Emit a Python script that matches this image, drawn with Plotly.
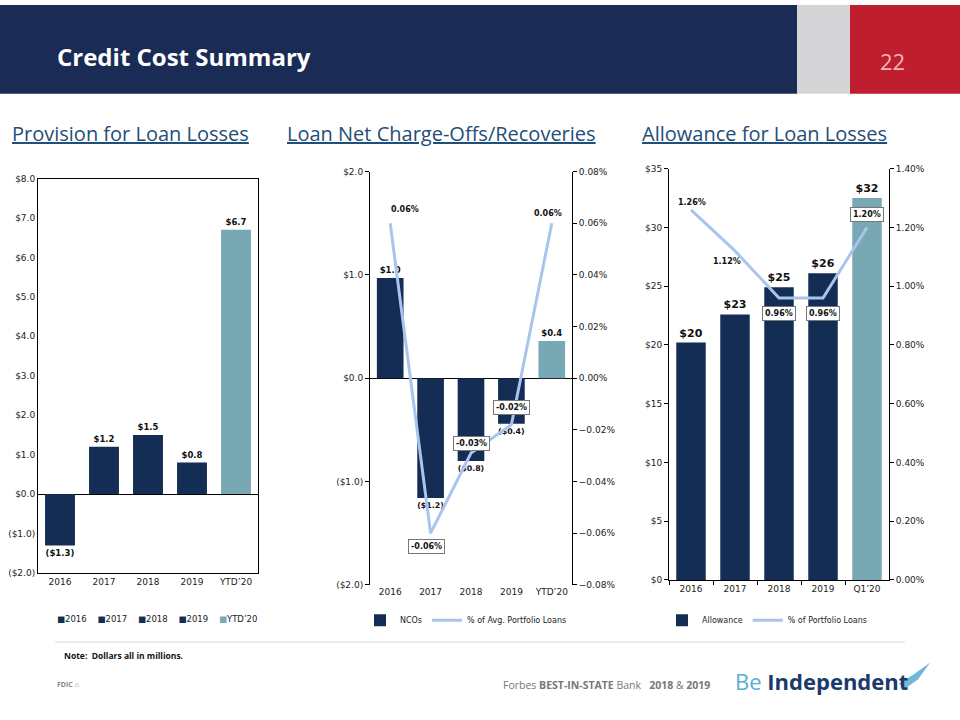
import plotly.graph_objects as go

# ---- data ----------------------------------------------------------------
prov_cats = ["2016", "2017", "2018", "2019", "YTD’20"]
prov_vals = [-1.3, 1.2, 1.5, 0.8, 6.7]

nco_cats = ["2016", "2017", "2018", "2019", "YTD’20"]
nco_vals = [0.97, -1.16, -0.80, -0.44, 0.36]
nco_pct = [0.060, -0.060, -0.029, -0.018, 0.060]

allow_cats = ["2016", "2017", "2018", "2019", "Q1’20"]
allow_vals = [20.2, 22.6, 24.9, 26.1, 32.5]
allow_pct = [1.26, 1.12, 0.96, 0.96, 1.20]

prov_ticks = [-2, -1, 0, 1, 2, 3, 4, 5, 6, 7, 8]
nco_ticks = [-2, -1, 0, 1, 2]

NAVY = "#142d54"
TEAL = "#78a8b4"
LINE = "#a9c5ee"
FONT = "DejaVu Sans"
NARROW = "Liberation Sans Narrow, Open Sans, sans-serif"


def money(v):
    return f"${v:.1f}" if v >= 0 else f"(${-v:.1f})"


def bar_colors(cats):
    return [NAVY] * (len(cats) - 1) + [TEAL]


fig = go.Figure()

# ---- left: provision -------------------------------------------------------
fig.add_trace(go.Bar(
    x=prov_cats, y=prov_vals, marker=dict(color=bar_colors(prov_cats), line_width=0),
    width=0.68, text=[f"<b>{money(v)}</b>" for v in prov_vals],
    textposition="outside", cliponaxis=False,
    textfont=dict(family=FONT, size=8.5, color="#111"),
    showlegend=False, xaxis="x", yaxis="y",
))

# ---- middle: net charge-offs ----------------------------------------------
fig.add_trace(go.Bar(
    x=nco_cats, y=nco_vals, marker=dict(color=bar_colors(nco_cats), line_width=0),
    width=0.66, text=[f"<b>{money(v)}</b>" for v in nco_vals],
    textposition="outside", cliponaxis=False,
    textfont=dict(family=FONT, size=8.5, color="#111"),
    name="NCOs", legend="legend", xaxis="x2", yaxis="y2",
))
fig.add_trace(go.Scatter(
    x=nco_cats, y=nco_pct, mode="lines", line=dict(color=LINE, width=3),
    name="% of Avg. Portfolio Loans", legend="legend", xaxis="x2", yaxis="y3",
))

# ---- right: allowance ------------------------------------------------------
fig.add_trace(go.Bar(
    x=allow_cats, y=allow_vals, marker=dict(color=bar_colors(allow_cats), line_width=0),
    width=0.67, text=[f"<b>${v:.0f}</b>" for v in allow_vals],
    textposition="outside", cliponaxis=False,
    textfont=dict(family=FONT, size=11, color="#111"),
    name="Allowance", legend="legend2", xaxis="x3", yaxis="y4",
))
fig.add_trace(go.Scatter(
    x=allow_cats, y=allow_pct, mode="lines", line=dict(color=LINE, width=3),
    name="% of Portfolio Loans", legend="legend2", xaxis="x3", yaxis="y5",
))


# ---- point labels on the lines --------------------------------------------
# category strings like "2016" read as numbers here, so place by category index
def pct_labels(values, shifts, xref, yref):
    for i, (v, (dx, dy, boxed)) in enumerate(zip(values, shifts)):
        fig.add_annotation(
            x=i, y=v, xref=xref, yref=yref, text=f"<b>{v:.2f}%</b>", showarrow=False,
            xshift=dx, yshift=dy, font=dict(family=FONT, size=8, color="#111"),
            bgcolor="white" if boxed else "rgba(0,0,0,0)",
            bordercolor="#777" if boxed else "rgba(0,0,0,0)",
            borderwidth=1, borderpad=2,
        )


pct_labels(nco_pct, [(15, 14, False), (-4, -13, True), (0, 10, True), (0, 17, True),
                     (-4, 10, False)], "x2", "y3")
pct_labels(allow_pct, [(1, 7, False), (-8, -11, False), (0, -16, True), (0, -16, True),
                       (0, 13, True)], "x3", "y5")

# ---- axes -----------------------------------------------------------------
tickfont = dict(family=FONT, size=9, color="#222")
catfont = dict(family=FONT, size=9, color="#222")
W, H = 960, 720


def px_x(a, b):
    return [a / W, b / W]


def px_y(top, bottom):
    return [1 - bottom / H, 1 - top / H]


def cat_axis(cats, **kw):
    return dict(type="category", categoryorder="array", categoryarray=cats,
                range=[-0.5, len(cats) - 0.5], autorange=False, tickfont=catfont, **kw)


fig.update_layout(
    xaxis=cat_axis(prov_cats, domain=px_x(38, 258), anchor="y", showline=True,
                   mirror=True, linecolor="black", linewidth=1, ticks=""),
    yaxis=dict(domain=px_y(176, 576), anchor="x", range=[-2, 8],
               tickvals=prov_ticks, ticktext=[money(t) for t in prov_ticks],
               showline=True, mirror=True, linecolor="black", linewidth=1,
               showgrid=False, zeroline=True, zerolinecolor="black", zerolinewidth=1,
               ticks="", tickfont=tickfont),

    xaxis2=cat_axis(nco_cats, domain=px_x(370, 572), anchor="y2", showline=False,
                    ticks=""),
    yaxis2=dict(domain=px_y(169, 588), anchor="x2", range=[-2, 2],
                tickvals=nco_ticks, ticktext=[money(t) for t in nco_ticks],
                showline=True, linecolor="black", linewidth=1, ticks="outside",
                ticklen=4, tickcolor="black", showgrid=False, zeroline=True,
                zerolinecolor="black", zerolinewidth=1, tickfont=tickfont),
    yaxis3=dict(overlaying="y2", side="right", anchor="x2", range=[-0.08, 0.08],
                dtick=0.02, tickformat=".2f", ticksuffix="%",
                showline=True, linecolor="black", linewidth=1, ticks="outside",
                ticklen=4, tickcolor="black", showgrid=False, zeroline=False,
                tickfont=tickfont),

    xaxis3=cat_axis(allow_cats, domain=px_x(669, 889), anchor="y4", showline=True,
                    linecolor="black", linewidth=1, ticks="outside",
                    tickson="boundaries", ticklen=4, tickcolor="black"),
    yaxis4=dict(domain=px_y(166, 583), anchor="x3", range=[0, 35], dtick=5,
                tickprefix="$", showline=True, linecolor="black", linewidth=1,
                ticks="outside", ticklen=4, tickcolor="black", showgrid=False,
                zeroline=False, tickfont=tickfont),
    yaxis5=dict(overlaying="y4", side="right", anchor="x3", range=[0, 1.4],
                dtick=0.2, tickformat=".2f", ticksuffix="%",
                showline=True, linecolor="black", linewidth=1, ticks="outside",
                ticklen=4, tickcolor="black", showgrid=False, zeroline=False,
                tickfont=tickfont),

    legend=dict(orientation="h", x=360 / W, y=1 - 624 / H, xanchor="left", yanchor="middle",
                font=dict(family=FONT, size=8, color="#222"), itemwidth=30,
                bgcolor="rgba(0,0,0,0)"),
    legend2=dict(orientation="h", x=662 / W, y=1 - 624 / H, xanchor="left", yanchor="middle",
                 font=dict(family=FONT, size=8, color="#222"), itemwidth=30,
                 bgcolor="rgba(0,0,0,0)"),
    barmode="overlay",
    width=W, height=H, margin=dict(l=0, r=0, t=0, b=0),
    plot_bgcolor="white", paper_bgcolor="white",
)


def note(x, y, text, size, color="#111", family=NARROW, xanchor="left"):
    fig.add_annotation(x=x / W, y=1 - y / H, xref="paper", yref="paper", text=text,
                       xanchor=xanchor, yanchor="middle", showarrow=False,
                       font=dict(family=family, size=size, color=color))


# legend for the provision chart (one swatch per year)
swatches = "    ".join(
    f"<span style='color:{c}'>■</span>{cat}" for cat, c in zip(prov_cats, bar_colors(prov_cats))
)
note(157, 623, swatches, 8.5, "#222", FONT, "center")

# ---- slide header / footer -------------------------------------------------
fig.add_shape(type="rect", xref="paper", yref="paper", x0=0, x1=797 / W, y0=1 - 90 / H, y1=1,
              fillcolor="#1a2c56", line_width=0, layer="below")
fig.add_shape(type="rect", xref="paper", yref="paper", x0=797 / W, x1=850 / W, y0=1 - 90 / H, y1=1,
              fillcolor="#d5d5d7", line_width=0, layer="below")
fig.add_shape(type="rect", xref="paper", yref="paper", x0=850 / W, x1=1, y0=1 - 90 / H, y1=1,
              fillcolor="#be1e2d", line_width=0, layer="below")
note(55, 52, "<b>Credit Cost Summary</b>", 24, "white")
note(892, 57, "22", 22, "#f2b4b8", xanchor="center")

for label, x0 in [("Provision for Loan Losses", 10),
                  ("Loan Net Charge-Offs/Recoveries", 285),
                  ("Allowance for Loan Losses", 640)]:
    note(x0, 130, f"<u>{label}</u>", 20, "#1f4e79")

fig.add_shape(type="line", xref="paper", yref="paper", x0=55 / W, x1=905 / W,
              y0=1 - 646 / H, y1=1 - 646 / H, line=dict(color="#d9d9d9", width=1))
note(62, 660, "<b>Note:  Dollars all in millions.</b>", 8.5)
note(55, 689, "<b>FDIC</b> ⌂", 7, "#888")
note(712, 690, "Forbes <b>BEST-IN-STATE</b> Bank   <b>2018</b> & <b>2019</b>", 10.5, "#777",
     xanchor="right")
note(733, 686, "<span style='color:#5aaed3'>Be</span> <b>Independent</b>", 22, "#1b3a6b")
fig.add_shape(type="path", xref="paper", yref="paper",
              path=(f"M {899/W} {1-688/H} L {912/W} {1-680/H} L {930/W} {1-667/H} "
                    f"L {918/W} {1-684/H} L {905/W} {1-693/H} Z"),
              fillcolor="#6fb8d6", line_width=0)

# pin the figure to the page corner so nothing else in the page shifts it
page_css = (
    "document.documentElement.style.overflow='hidden';"
    "document.body.style.margin='0';document.body.style.overflow='hidden';"
    "var g=document.querySelector('.plotly-graph-div');"
    "g.style.position='absolute';g.style.top='0';g.style.left='0';"
)
fig.write_html("out.html", config={"displayModeBar": False}, post_script=page_css)
